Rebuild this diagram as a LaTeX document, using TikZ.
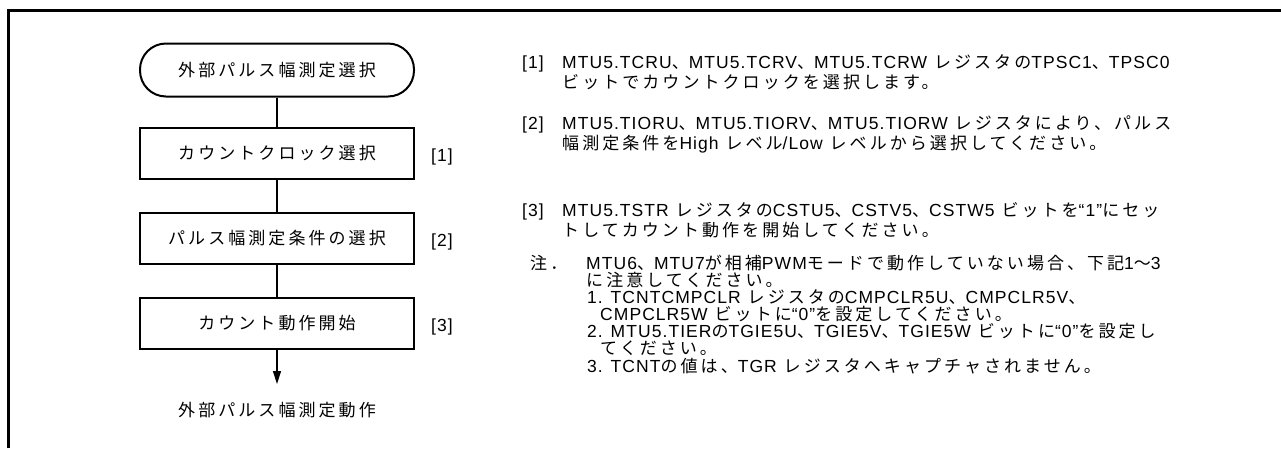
\documentclass[tikz,border=0pt]{standalone}
\usepackage{fontspec}
\setmainfont{Noto Sans CJK JP}[LetterSpace=18]
\newfontfamily\latfont{Liberation Sans}[LetterSpace=6,Scale=1.03]
\newcommand\la[1]{{\latfont #1}}
\usetikzlibrary{arrows.meta}
\begin{document}
\begin{tikzpicture}[x=1pt,y=-1pt,
  every node/.style={font=\fontsize{17}{19}\selectfont},
  term/.style={draw,line width=2pt,rounded corners=26pt,minimum width=274pt,minimum height=53pt,inner sep=0},
  stepbox/.style={draw,line width=2.3pt,minimum width=274pt,minimum height=51pt,inner sep=0},
  conn/.style={line width=1.3pt},
  txt/.style={anchor=base west,inner sep=0},
  plain/.style={inner sep=0}]
\useasboundingbox (0,0) rectangle (1281,448);
\draw[line width=3pt] (8.5,448) -- (8.5,10.5) -- (1281,10.5);
% flowchart
\node[term] (s) at (277,70) {外部パルス幅測定選択};
\node[stepbox] (b1) at (277,153.5) {カウントクロック選択};
\node[stepbox] (b2) at (277,238.5) {パルス幅測定条件の選択};
\node[stepbox] (b3) at (277,323.5) {カウント動作開始};
\coordinate (tip) at (277,384);
\node[plain] (e) at (277,410) {外部パルス幅測定動作};
\draw[conn] (s) -- (b1);
\draw[conn] (b1) -- (b2);
\draw[conn] (b2) -- (b3);
\draw[conn,-{Triangle[length=13pt,width=8pt]}] (b3) -- (tip);
\node[txt] (l1) at (431,161) {\la{[1]}};
\node[txt] (l2) at (431,246) {\la{[2]}};
\node[txt] (l3) at (431,331) {\la{[3]}};
% right text
\node[txt] (n1) at (522,68) {\la{[1]}};
\node[txt] (t1a) at (562,68) {\la{MTU5.TCRU}、\la{MTU5.TCRV}、\la{MTU5.TCRW} レジスタの\la{TPSC1}、\la{TPSC0}};
\node[txt] (t1b) at (562,88) {ビットでカウントクロックを選択します。};
\node[txt] (n2) at (522,129) {\la{[2]}};
\node[txt] (t2a) at (562,129) {\la{MTU5.TIORU}、\la{MTU5.TIORV}、\la{MTU5.TIORW} レジスタにより、パルス};
\node[txt] (t2b) at (562,149) {幅測定条件を\la{High} レベル\la{/Low} レベルから選択してください。};
\node[txt] (n3) at (522,216) {\la{[3]}};
\node[txt] (t3a) at (562,216) {\la{MTU5.TSTR} レジスタの\la{CSTU5}、\la{CSTV5}、\la{CSTW5} ビットを\la{“1”}にセッ};
\node[txt] (t3b) at (562,236) {トしてカウント動作を開始してください。};
\node[txt] (nn) at (530,269) {注．};
\node[txt] (m1) at (586,269) {\la{MTU6}、\la{MTU7}が相補\la{PWM}モードで動作していない場合、下記\la{1}～\la{3}};
\node[txt] (m2) at (586,286) {に注意してください。};
\node[txt] (m3) at (587,303) {\la{1. TCNTCMPCLR} レジスタの\la{CMPCLR5U}、\la{CMPCLR5V}、};
\node[txt] (m4) at (600,320) {\la{CMPCLR5W} ビットに\la{“0”}を設定してください。};
\node[txt] (m5) at (587,337) {\la{2. MTU5.TIER}の\la{TGIE5U}、\la{TGIE5V}、\la{TGIE5W} ビットに\la{“0”}を設定し};
\node[txt] (m6) at (600,354) {てください。};
\node[txt] (m7) at (587,372) {\la{3. TCNT}の値は、\la{TGR} レジスタへキャプチャされません。};
\end{tikzpicture}
\end{document}
